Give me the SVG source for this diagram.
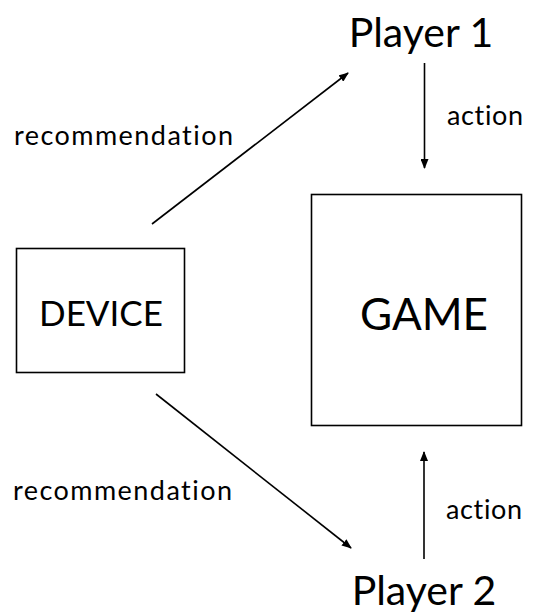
<svg xmlns="http://www.w3.org/2000/svg" width="539" height="616" viewBox="0 0 539 616">
<style>
text{font-family:Lato,"Open Sans","Liberation Sans",sans-serif;fill:#000;font-variant-ligatures:none}
.box{fill:#fff;stroke:#000;stroke-width:1.6}
.edge{stroke:#000;stroke-width:1.6;fill:none;marker-end:url(#ah)}
.lbl{font-size:27px}
.big{font-size:41px}
</style>
<defs>
<marker id="ah" viewBox="0 0 10 8" refX="9" refY="4" markerWidth="10" markerHeight="8" markerUnits="userSpaceOnUse" orient="auto">
<path d="M0,0 L10,4 L0,8 z" fill="#000"/>
</marker>
</defs>
<rect width="539" height="616" fill="#fff"/>
<g id="device"><rect class="box" x="16.5" y="248.5" width="168" height="124"/><text x="101" y="326" font-size="35" text-anchor="middle">DEVICE</text></g>
<g id="game"><rect class="box" x="311.5" y="194.5" width="210" height="231"/><text x="424" y="330" font-size="44" text-anchor="middle">GAME</text></g>
<g id="player1"><text class="big" x="421" y="47" text-anchor="middle">Player 1</text></g>
<g id="player2"><text class="big" x="424" y="605" text-anchor="middle">Player 2</text></g>
<g id="connectors">
<line class="edge" x1="152" y1="224" x2="348" y2="73"/>
<line class="edge" x1="156" y1="394" x2="351" y2="548"/>
<line class="edge" x1="424.5" y1="63" x2="424.5" y2="168"/>
<line class="edge" x1="424" y1="559" x2="424" y2="452"/>
<text class="lbl" x="14" y="145" textLength="219" lengthAdjust="spacing">recommendation</text>
<text class="lbl" x="13" y="500" textLength="219" lengthAdjust="spacing">recommendation</text>
<text class="lbl" x="447" y="125" textLength="76" lengthAdjust="spacing">action</text>
<text class="lbl" x="446" y="519" textLength="76" lengthAdjust="spacing">action</text>
</g>
</svg>
